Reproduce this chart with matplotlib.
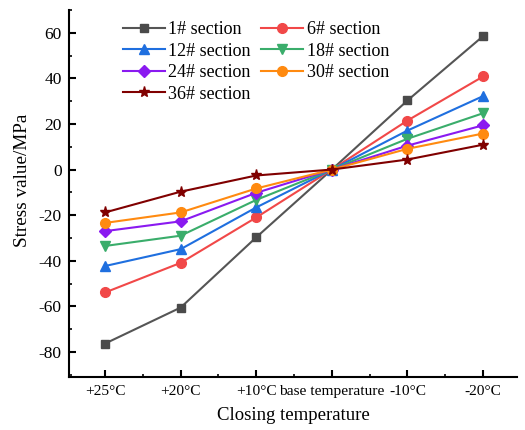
import matplotlib
matplotlib.use("Agg")
import matplotlib.pyplot as plt
from matplotlib.ticker import MultipleLocator

plt.rcParams['font.family'] = ['Liberation Serif', 'DejaVu Serif']
plt.rcParams['axes.unicode_minus'] = False

categories = ['+25°C', '+20°C', '+10°C', 'base temperature', '-10°C', '-20°C']
series_names = ['1# section', '6# section', '12# section', '18# section',
                '24# section', '30# section', '36# section']
s1 = [-76.3, -60.5, -29.7, 0, 30.3, 58.5]
s6 = [-53.9, -40.9, -21.0, 0, 21.5, 40.8]
s12 = [-42.3, -34.9, -16.6, 0, 17.1, 32.2]
s18 = [-33.5, -29.0, -13.3, 0, 13.5, 24.7]
s24 = [-27.0, -22.7, -10.2, 0, 10.5, 19.4]
s30 = [-23.4, -18.8, -8.3, 0, 9.1, 15.8]
s36 = [-18.8, -9.7, -2.6, 0, 4.4, 10.9]
values = [s1, s6, s12, s18, s24, s30, s36]

colors = ['#555555', '#f14848', '#1f6fdf', '#3aad6b', '#8a1af0', '#ff8a10', '#800000']
mcolors = ['#4a4a4a', '#f14848', '#1f6fdf', '#3aad6b', '#8a1af0', '#ff8a10', '#800000']
markers = ['s', 'o', '^', 'v', 'D', 'o', '*']
msizes = [6, 7, 7, 7, 6, 7, 8]

fig = plt.figure(figsize=(5.25, 4.3), dpi=100)
ax = fig.add_axes([0.131, 0.123, 0.854, 0.854])

x = list(range(len(categories)))
handles = []
for v, n, c, mc, m, ms in zip(values, series_names, colors, mcolors, markers, msizes):
    h, = ax.plot(x, v, color=c, lw=1.5, marker=m, markersize=ms,
                 markerfacecolor=mc, markeredgecolor=mc, label=n)
    handles.append(h)

ax.set_xlim(-0.48, 5.45)
ax.set_ylim(-91, 70)
ax.set_xticks(x)
ax.set_xticklabels(categories, fontsize=11.1)
ax.xaxis.set_minor_locator(MultipleLocator(0.5))
ax.yaxis.set_major_locator(MultipleLocator(20))
ax.yaxis.set_minor_locator(MultipleLocator(10))
ax.tick_params(axis='y', labelsize=12.5)
ax.tick_params(which='major', direction='in', length=5, width=1.5)
ax.tick_params(which='minor', direction='in', length=2.5, width=1.2)
ax.tick_params(axis='x', pad=6)
ax.tick_params(axis='y', pad=5)
for s in ['top', 'right']:
    ax.spines[s].set_visible(False)
for s in ['left', 'bottom']:
    ax.spines[s].set_linewidth(1.5)

ax.set_xlabel('Closing temperature', fontsize=13.5, labelpad=6)
ax.set_ylabel('Stress value/MPa', fontsize=13.8, labelpad=5)
ax.yaxis.set_label_coords(-0.085, 0.535)

order = [0, 2, 4, 6, 1, 3, 5]
ax.legend([handles[i] for i in order], [series_names[i] for i in order],
          ncol=2, frameon=False, fontsize=13, loc='upper left',
          bbox_to_anchor=(0.085, 1.013), handlelength=2.3, handletextpad=0.2,
          columnspacing=0.59, labelspacing=0.245)

fig.savefig('out.png', dpi=100)
